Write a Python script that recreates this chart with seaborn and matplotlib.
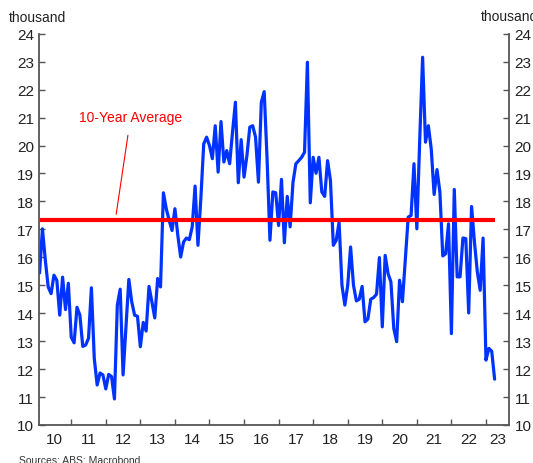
import pandas as pd
import seaborn as sns
import matplotlib.pyplot as plt

# monthly series, thousand, starting Feb 2010
start = "2010-02"
values = [
    15.44, 17.02, 15.9, 14.94, 14.70, 15.36, 15.18, 13.93, 15.29, 14.13,
    15.07, 13.14, 12.94, 14.21, 13.93, 12.81, 12.86, 13.10, 14.91, 12.38,
    11.43, 11.86, 11.79, 11.29, 11.81, 11.73, 10.93, 14.29, 14.86, 11.79,
    13.5, 15.21, 14.41, 13.93, 13.89, 12.8, 13.67, 13.36, 14.96, 14.41,
    13.83, 15.24, 14.94, 18.31, 17.74, 17.32, 16.96, 17.74, 16.79, 16.01,
    16.55, 16.69, 16.63, 17.09, 18.55, 16.43, 18.10, 20.06, 20.30, 20.0,
    19.53, 20.71, 19.05, 20.86, 19.41, 19.82, 19.35, 20.48, 21.55, 18.67,
    20.21, 18.87, 19.64, 20.66, 20.71, 20.30, 18.69, 21.55, 21.93, 19.52,
    16.61, 18.34, 18.31, 17.14, 18.79, 16.52, 18.18, 17.09, 18.69, 19.35,
    19.46, 19.58, 19.76, 22.98, 17.95, 19.58, 19.01, 19.58, 18.34, 18.18,
    19.46, 18.75, 16.43, 16.61, 17.26, 15.0, 14.29, 15.0, 16.37, 15.0,
    14.44, 14.5, 14.96, 13.69, 13.79, 14.5, 14.56, 14.68, 15.99, 13.51,
    16.07, 15.42, 15.12, 13.45, 12.98, 15.18, 14.41, 15.95, 17.44, 17.5,
    19.35, 17.02, 20.2, 23.16, 20.12, 20.71, 19.88, 18.25, 19.14, 18.34,
    16.05, 16.13, 17.2, 13.27, 18.43, 15.3, 15.3, 16.69, 16.67, 14.01,
    17.82, 16.55, 15.48, 14.82, 16.69, 12.32, 12.74, 12.64, 11.64,
]
avg_10y = 17.34
years = list(range(2011, 2024))
year_labels = ["10", "11", "12", "13", "14", "15", "16", "17", "18", "19",
               "20", "21", "22", "23"]
y_ticks = list(range(10, 25))

dates = pd.date_range(start, periods=len(values), freq="MS")
df = pd.DataFrame({"t": dates.year + (dates.month - 1) / 12, "v": values})

sns.set_style("ticks")
plt.rcParams["font.family"] = ["Liberation Sans", "DejaVu Sans"]

fig = plt.figure(figsize=(5.33, 4.64), dpi=100)
ax = fig.add_axes([0.074, 0.082, 0.881, 0.843])

sns.lineplot(data=df, x="t", y="v", color="#0033ff", lw=2.3, ax=ax, zorder=2)
ax.hlines(avg_10y, df.t.iloc[0], df.t.iloc[-1], color="#ff0000", lw=3, zorder=3)

ax.annotate("10-Year Average", xy=(2012.3, avg_10y + 0.2), xytext=(2012.72, 21.03),
            ha="center", va="center", color="#ff0000", fontsize=10,
            arrowprops=dict(arrowstyle="-", color="#ff0000", lw=0.8, shrinkA=6, shrinkB=0))

xmin, xmax = 2010.08, 2023.667
ax.set_xlim(xmin, xmax)
ax.set_ylim(10, 24)

ax.set_xticks(years)
ax.set_xticklabels([])
label_pos = [y + 0.5 for y in range(2010, 2023)] + [(2023 + xmax) / 2]
ax.set_xticks(label_pos, minor=True)
ax.set_xticklabels(year_labels, minor=True)
ax.set_yticks(y_ticks)

ax.tick_params(axis="both", which="major", direction="in", length=4, width=1,
               color="#555555", labelsize=11, labelcolor="#222222")
ax.tick_params(axis="x", which="minor", length=0, pad=5, labelsize=11,
               labelcolor="#222222")
ax.tick_params(axis="y", right=True, labelright=True, pad=4)

ax.set_xlabel("")
ax.set_ylabel("")
for side in ["left", "right", "bottom"]:
    ax.spines[side].set_color("#555555")
    ax.spines[side].set_linewidth(1.3)
ax.spines["top"].set_visible(False)

fig.text(0.017, 0.961, "thousand", fontsize=10, color="#222222", va="center", ha="left")
fig.text(0.902, 0.963, "thousand", fontsize=10, color="#222222", va="center", ha="left")
fig.text(0.036, 0.018, "Sources: ABS; Macrobond", fontsize=7.5, color="#333333",
         va="top", ha="left")

fig.savefig("out.png", dpi=100)
